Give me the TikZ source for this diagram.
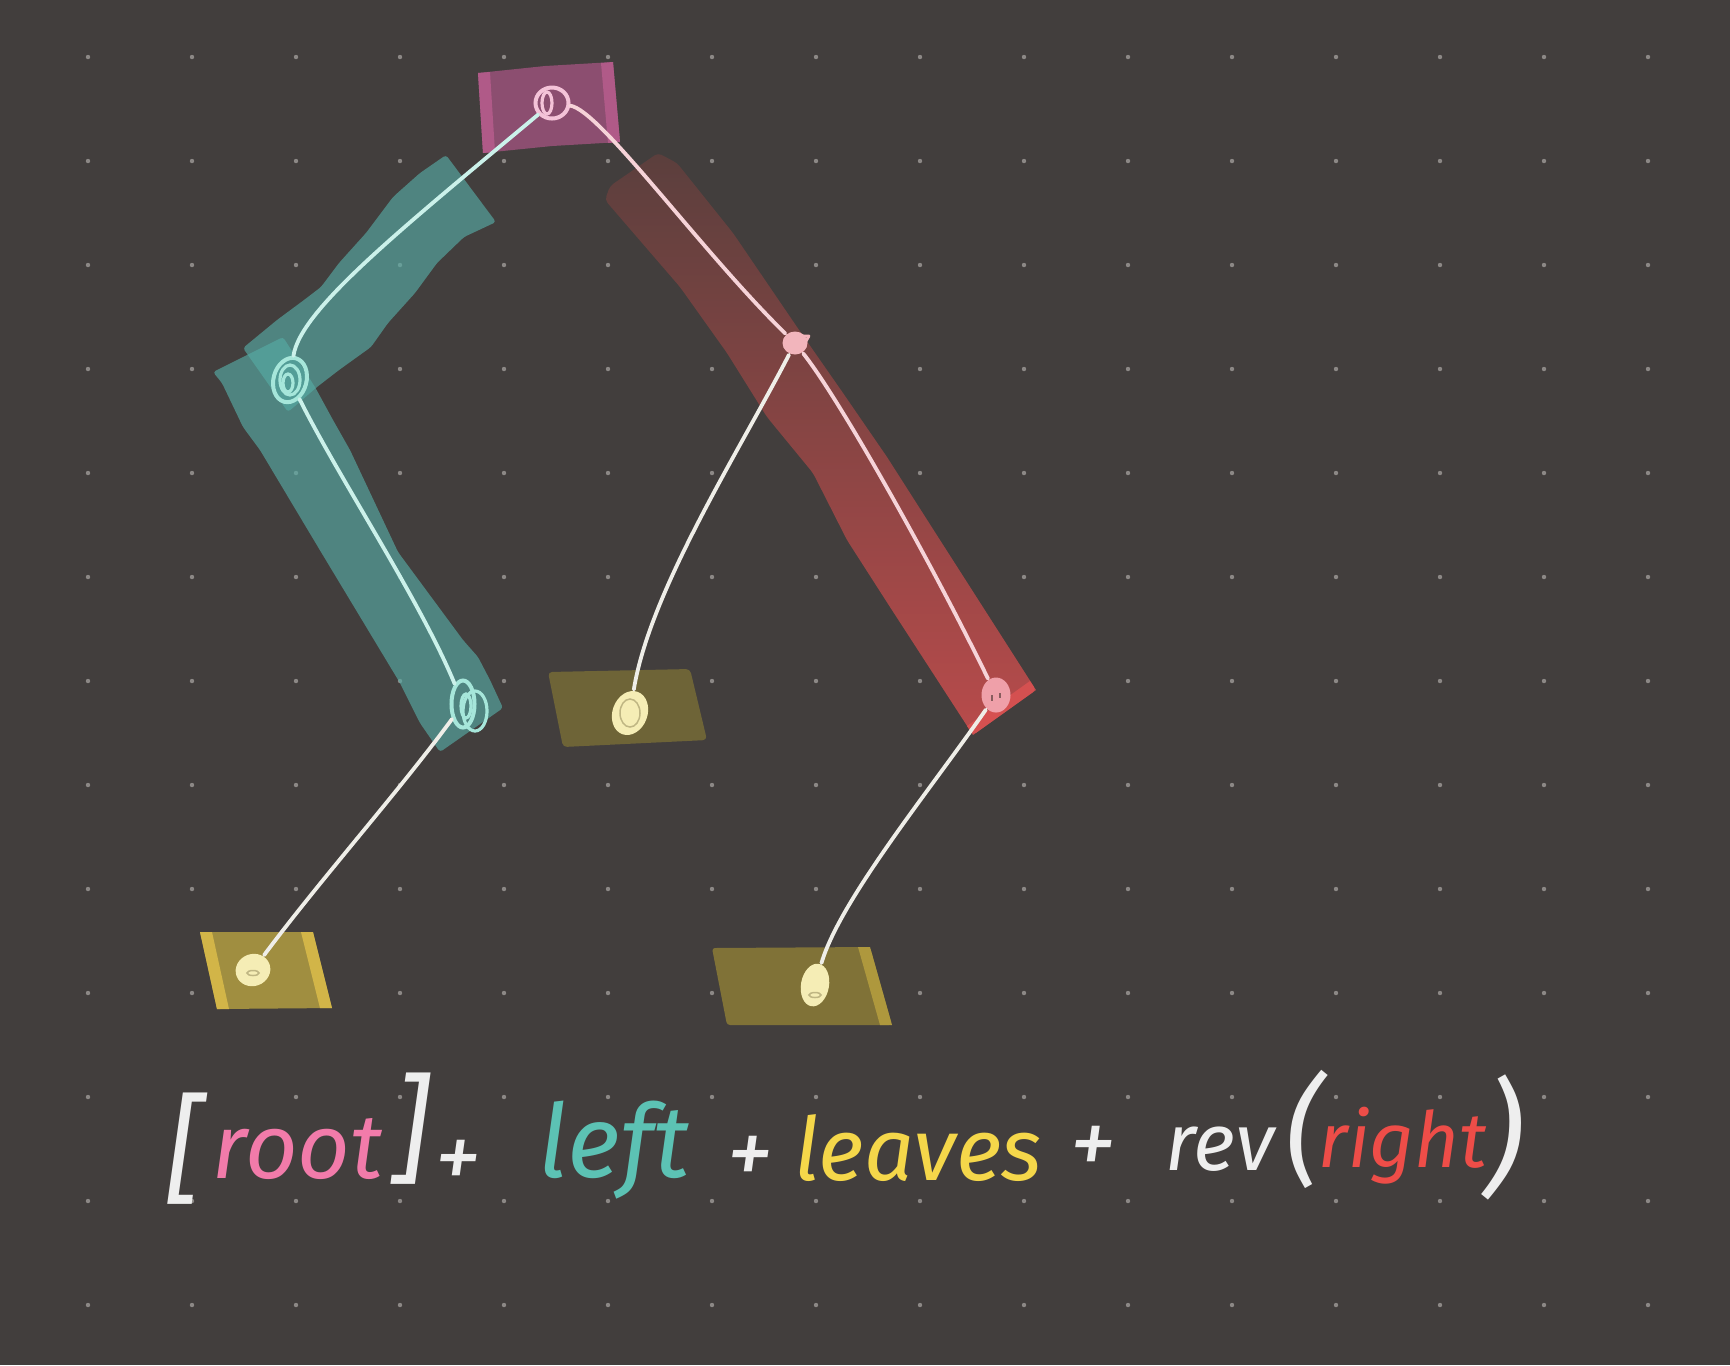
\documentclass[tikz,border=0pt]{standalone}
\usepackage{fontspec}
\usetikzlibrary{shapes.geometric}
\newfontfamily\handf{Fira Sans}
\newcommand\hand{\handf\itshape}
\definecolor{bg}{HTML}{423E3D}
\definecolor{dotc}{HTML}{8C8886}
\definecolor{tealband}{HTML}{56ABA4}
\definecolor{redA}{HTML}{5B3F3D}
\definecolor{redB}{HTML}{7E4444}
\definecolor{redC}{HTML}{B84B4B}
\definecolor{redstrip}{HTML}{DD5252}
\definecolor{rootfill}{HTML}{8C4E70}
\definecolor{rootedge}{HTML}{B05A88}
\definecolor{leafA}{HTML}{A08E40}
\definecolor{leafAedge}{HTML}{D2B548}
\definecolor{leafB}{HTML}{6E6437}
\definecolor{leafC}{HTML}{807237}
\definecolor{leafCedge}{HTML}{AE983D}
\definecolor{pinknode}{HTML}{F4C3D8}
\definecolor{tealnode}{HTML}{A6E6DA}
\definecolor{salmon}{HTML}{F2B5BC}
\definecolor{salmonB}{HTML}{EFA0A9}
\definecolor{yellownode}{HTML}{F5EDB5}
\definecolor{tealline}{HTML}{CBF1EA}
\definecolor{pinkline}{HTML}{F6D3D8}
\definecolor{whiteline}{HTML}{EFEEE8}
\definecolor{tPink}{HTML}{F27BAA}
\definecolor{tTeal}{HTML}{5CC2B4}
\definecolor{tYellow}{HTML}{F5D74A}
\definecolor{tWhite}{HTML}{EEEEEE}
\definecolor{tRed}{HTML}{EE4D48}
\begin{document}
\begin{tikzpicture}[x=0.01cm,y=-0.01cm,
  edge/.style={line width=0.038cm, line cap=round},
  scrib/.style={ellipse, draw, line width=0.04cm, inner sep=0pt},
  blob/.style={ellipse, inner sep=0pt, line width=0.03cm},
  loop/.style={line width=0.032cm},
  word/.style={anchor=base, inner sep=0pt},
  brk/.style={anchor=center, inner sep=0pt},
  tband/.style={fill=tealband, fill opacity=0.65},
  ]
\useasboundingbox (0,0) rectangle (1730,1365);
\fill[bg] (0,0) rectangle (1730,1365);
\foreach \i in {0,...,15} \foreach \j in {0,...,12}
  \fill[dotc] ({88+104*\i},{57+104*\j}) circle (0.022cm);

% teal band 1 (root -> left)
\fill[tband, rounded corners=0.03cm] (446,155) -- (420,173) -- (393,197) -- (366,233) -- (339,263)
  -- (321,287) -- (304,300) -- (277,320) -- (243,348) -- (288,412) -- (317,387)
  -- (339,370) -- (371,347) -- (388,323) -- (415,293) -- (437,263) -- (464,237) -- (496,222) -- cycle;
% teal band 2 (left -> bottom-left)
\fill[tband, rounded corners=0.03cm] (213,372) -- (283,337) -- (315,387) -- (333,420) -- (350,450)
  -- (398,552) -- (463,640) -- (478,657) -- (490,680) -- (503,708) -- (440,752)
  -- (420,723) -- (400,683) -- (321,552) -- (260,450) -- (243,427) -- (222,383) -- cycle;

% red band (root -> right)
\shade[top color=redA, middle color=redB, bottom color=redC, rounded corners=0.04cm]
  (610,186) -- (658,153) -- (677,163) -- (733,233) -- (797,327) -- (843,393) -- (887,457)
  -- (940,540) -- (1036,690) -- (973,735) -- (890,607) -- (847,540) -- (813,473)
  -- (767,417) -- (727,353) -- (680,287) -- (605,200) -- cycle;
\fill[redstrip, fill opacity=0.8] (973,735) -- (1036,690) -- (1030,681) -- (967,726) -- cycle;

% root box
\fill[rootfill] (478,73) -- (545,66) -- (613,62) -- (620,142) -- (552,146) -- (483,153) -- cycle;
\fill[rootedge] (478,73) -- (490,72) -- (495,152) -- (483,153) -- cycle;
\fill[rootedge] (601,63) -- (613,62) -- (620,142) -- (608,143) -- cycle;

% leaves
\fill[leafA] (200,932) -- (313,932) -- (332,1008) -- (217,1009) -- cycle;
\fill[leafAedge] (200,932) -- (212,932) -- (229,1009) -- (217,1009) -- cycle;
\fill[leafAedge] (301,932) -- (313,932) -- (332,1008) -- (320,1008) -- cycle;
\fill[leafB, rounded corners=0.04cm] (548,672) -- (690,669) -- (707,740) -- (563,747) -- cycle;
\fill[leafC, rounded corners=0.03cm] (712,948) -- (870,947) -- (892,1025) -- (727,1025) -- cycle;
\fill[leafCedge] (858,947) -- (870,947) -- (892,1025) -- (880,1025) -- cycle;

% nodes
\node[scrib, pinknode, minimum width=0.33cm, minimum height=0.31cm] (r) at (552,103) {};
\node[scrib, tealnode, minimum width=0.33cm, minimum height=0.45cm, rotate=-15] (L) at (290,380) {};
\node[scrib, tealnode, minimum width=0.23cm, minimum height=0.47cm] (BL) at (463,704) {};
\node[blob, fill=salmon, minimum width=0.25cm, minimum height=0.23cm] (R) at (795,343) {};
\node[blob, fill=salmonB, minimum width=0.29cm, minimum height=0.35cm] (RB) at (996,695) {};
\node[blob, fill=yellownode, minimum width=0.35cm, minimum height=0.32cm, rotate=20] (l1) at (253,970) {};
\node[blob, fill=yellownode, minimum width=0.35cm, minimum height=0.45cm, rotate=-20] (l2) at (630,713) {};
\node[blob, fill=yellownode, minimum width=0.28cm, minimum height=0.43cm, rotate=-10] (l3) at (815,985) {};

% scribble loops inside nodes
\draw[pinknode, loop] ([xshift=-0.05cm]r.center) ellipse (0.05cm and 0.11cm);
\draw[tealnode, loop] (L.center) ellipse (0.1cm and 0.15cm);
\draw[tealnode, loop] ([xshift=-0.02cm,yshift=-0.03cm]L.center) ellipse (0.05cm and 0.09cm);
\draw[tealnode, loop] ([xshift=0.12cm,yshift=-0.07cm]BL.center) ellipse (0.12cm and 0.2cm);
\draw[tealnode, loop] ([xshift=0.03cm,yshift=-0.02cm]BL.center) ellipse (0.05cm and 0.12cm);
\draw[salmon, line width=0.028cm, line join=round] ([xshift=-0.03cm,yshift=0.07cm]R.center)
  -- ([xshift=0.14cm,yshift=0.07cm]R.center) -- ([xshift=0.06cm,yshift=-0.07cm]R.center);
\draw[redA!70!salmonB, line width=0.015cm] ([xshift=-0.04cm]RB.center) -- ++(0,-0.06cm)
  ([xshift=0.04cm,yshift=0.02cm]RB.center) -- ++(0,-0.05cm);
\draw[leafB!40!yellownode, line width=0.015cm] ([yshift=-0.03cm]l1.center) ellipse (0.06cm and 0.025cm);
\draw[leafB!40!yellownode, line width=0.015cm] (l2.center) ellipse (0.1cm and 0.14cm);
\draw[leafB!40!yellownode, line width=0.015cm] ([yshift=-0.1cm]l3.center) ellipse (0.06cm and 0.025cm);

% connectors
\draw[edge, tealline] (r) .. controls (400,230) and (300,310) .. (L);
\draw[edge, tealline] (L) .. controls (340,480) and (420,600) .. (BL);
\draw[edge, whiteline] (BL) .. controls (400,790) and (320,880) .. (l1);
\draw[edge, pinkline] (r) .. controls (600,110) and (700,250) .. (R);
\draw[edge, pinkline] (R) .. controls (840,400) and (930,560) .. (RB);
\draw[edge, whiteline] (R) .. controls (740,450) and (650,590) .. (l2);
\draw[edge, whiteline] (RB) .. controls (930,790) and (840,900) .. (l3);

% formula
\node[brk, text=tWhite, font=\hand\fontsize{34}{36}\selectfont] (lb) at (185,1149) {[};
\node[word, text=tPink, font=\hand\fontsize{26}{30}\selectfont] (troot) at (298,1178) {root};
\node[brk, text=tWhite, font=\hand\fontsize{34}{36}\selectfont] (rb) at (410,1129) {]};
\node[brk, text=tWhite, font=\hand\fontsize{27}{30}\selectfont] (p1) at (458,1165) {+};
\node[word, text=tTeal, font=\hand\fontsize{29}{34}\selectfont] (tleft) at (614,1177) {left};
\node[brk, text=tWhite, font=\hand\fontsize{27}{30}\selectfont] (p2) at (750,1161) {+};
\node[word, text=tYellow, font=\hand\fontsize{25}{30}\selectfont] (tleaves) at (918,1180) {leaves};
\node[brk, text=tWhite, font=\hand\fontsize{27}{30}\selectfont] (p3) at (1093,1151) {+};
\node[word, text=tWhite, font=\hand\fontsize{23}{28}\selectfont] (trev) at (1220,1170) {rev};
\node[brk, text=tWhite, font=\hand\fontsize{34}{36}\selectfont] (lp) at (1304,1129) {(};
\node[word, text=tRed, font=\hand\fontsize{22}{28}\selectfont] (tright) at (1403,1167) {right};
\node[brk, text=tWhite, font=\hand\fontsize{36}{38}\selectfont] (rp) at (1504,1137) {)};
\end{tikzpicture}
\end{document}
